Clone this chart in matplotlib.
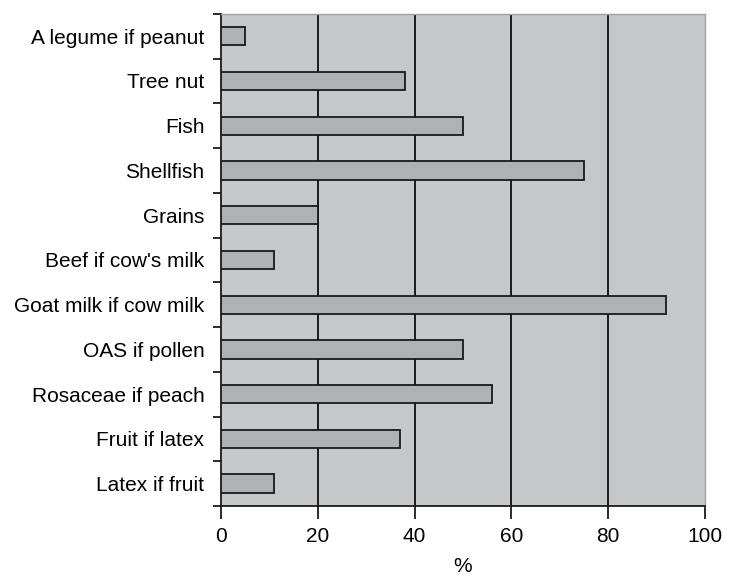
import numpy as np
import matplotlib
matplotlib.use('Agg')
import matplotlib.pyplot as plt

plt.rcParams['font.family'] = ['Liberation Sans', 'DejaVu Sans']

categories = ['A legume if peanut', 'Tree nut', 'Fish', 'Shellfish', 'Grains',
              "Beef if cow's milk", 'Goat milk if cow milk', 'OAS if pollen',
              'Rosaceae if peach', 'Fruit if latex', 'Latex if fruit']
values = [5, 38, 50, 75, 20, 11, 92, 50, 56, 37, 11]
x_ticks = [0, 20, 40, 60, 80, 100]

fig = plt.figure(figsize=(7.38, 5.77), dpi=100)
ax = fig.add_axes([0.2995, 0.123, 0.6555, 0.853])
ax.set_facecolor('#c6c7c9')

n = len(categories)
pos = np.arange(n)[::-1]
ax.barh(pos, values, height=0.41, color='#b0b1b4', edgecolor='#1a1a1a',
        linewidth=1.3, zorder=3)

for xv in x_ticks[1:-1]:
    ax.axvline(xv, color='#1a1a1a', linewidth=1.4, zorder=2)

ax.set_xlim(0, 100)
ax.set_ylim(-0.5, n - 0.5)
ax.set_xticks(x_ticks)
ax.set_xticklabels([str(v) for v in x_ticks], fontsize=15)
ax.set_xlabel('%', fontsize=15, labelpad=8)

# category labels centred on bars, tick marks at the boundaries
ax.set_yticks(pos)
ax.set_yticklabels(categories, fontsize=15)
ax.tick_params(axis='y', length=0, pad=12)
ax.set_yticks(np.arange(n + 1) - 0.5, minor=True)
ax.tick_params(axis='y', which='minor', length=6, width=1.3, color='#1a1a1a')
ax.tick_params(axis='x', length=9, width=1.3, color='#1a1a1a', pad=6)

for side in ['left', 'bottom']:
    ax.spines[side].set_linewidth(1.3)
    ax.spines[side].set_color('#1a1a1a')
for side in ['top', 'right']:
    ax.spines[side].set_linewidth(1.0)
    ax.spines[side].set_color('#a0a0a2')

fig.savefig('out.png', dpi=100, facecolor='white')
